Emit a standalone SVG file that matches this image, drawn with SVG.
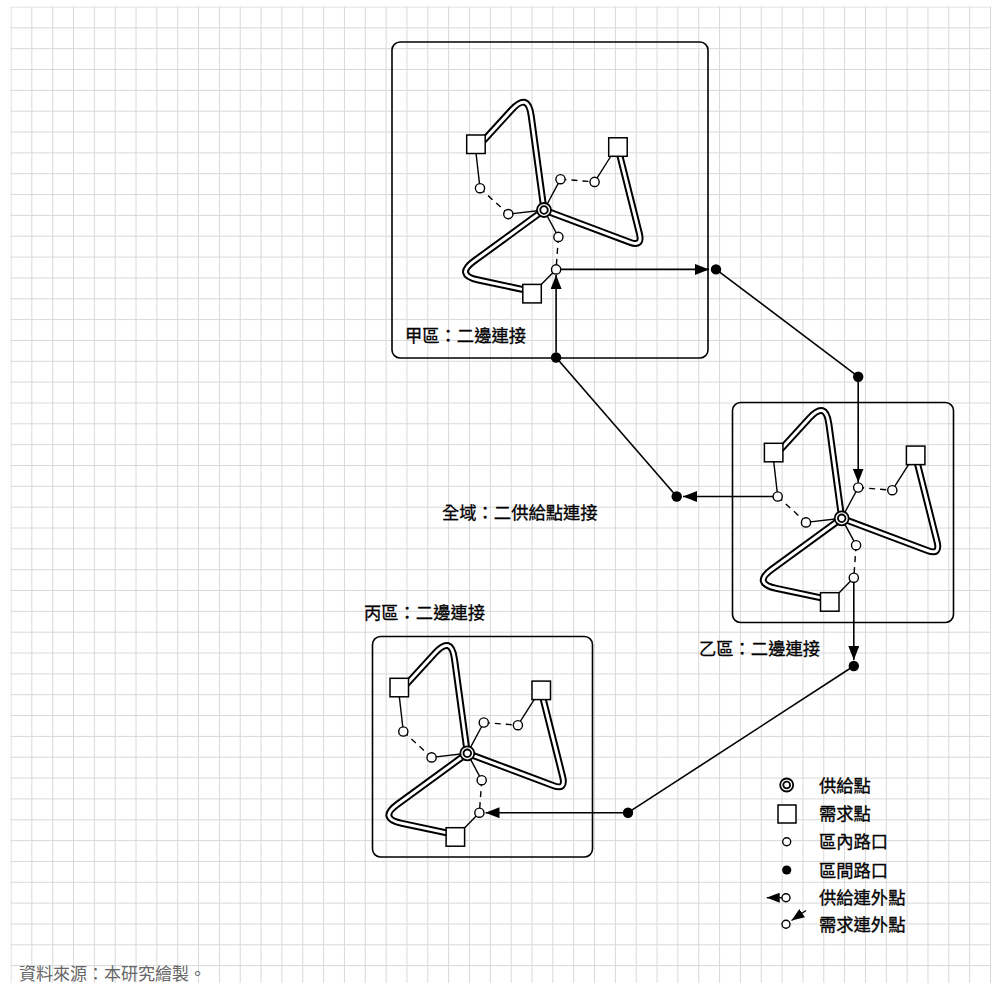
<svg xmlns="http://www.w3.org/2000/svg" width="993" height="983" viewBox="0 0 993 983">
<defs>
  <pattern id="grid" x="10.5" y="6.5" width="20.84" height="20.84" patternUnits="userSpaceOnUse">
    <path d="M0.5,0 V20.84 M0,0.5 H20.84" stroke="#d8d8d8" stroke-width="1" fill="none"/>
  </pattern>
  <marker id="arr" markerWidth="14" markerHeight="11" refX="14" refY="5.5" orient="auto" markerUnits="userSpaceOnUse">
    <path d="M0,0 L14,5.5 L0,11 Z" fill="#000"/>
  </marker>
  <marker id="arrS" markerWidth="13" markerHeight="10" refX="13" refY="5" orient="auto" markerUnits="userSpaceOnUse">
    <path d="M0,0 L13,5 L0,10 Z" fill="#000"/>
  </marker>
</defs>
<style>
  .zone { fill: none; stroke: #000; stroke-width: 1.6; }
  .road-o { fill: none; stroke: #000; stroke-width: 7; stroke-linejoin: round; }
  .road-i { fill: none; stroke: #fff; stroke-width: 3; stroke-linejoin: round; }
  .ln { stroke: #000; stroke-width: 1.4; fill: none; }
  .dash { stroke: #000; stroke-width: 1.4; fill: none; stroke-dasharray: 6 5; }
  .sq { fill: #fff; stroke: #000; stroke-width: 1.5; }
  .ci { fill: #fff; stroke: #000; stroke-width: 1.4; }
  .sup { fill: #fff; stroke: #000; stroke-width: 1.8; }
  .dot { fill: #000; }
  .con { stroke: #000; stroke-width: 1.6; fill: none; }
  .lbl { font-family: 'Liberation Sans', 'Noto Sans CJK TC', sans-serif; font-size: 17.3px; font-weight: 400; fill: #000; stroke: #000; stroke-width: 0.3; }
  .cap { font-family: 'Liberation Sans', 'Noto Sans CJK TC', sans-serif; font-size: 17px; font-weight: 400; fill: #666; }
</style>

<rect x="10.5" y="6.5" width="481" height="976.5" fill="url(#grid)"/>
<rect x="491.5" y="6.5" width="499.5" height="976.5" fill="url(#grid)"/>

<!-- Zone boxes -->
<g id="zone-jia"><rect class="zone" x="392" y="42" width="316" height="316" rx="8"/></g>
<g id="zone-yi"><rect class="zone" x="732.5" y="402.5" width="221" height="220" rx="8"/></g>
<g id="zone-bing"><rect class="zone" x="372.5" y="636.5" width="220" height="220.5" rx="8"/></g>

<!-- Cluster 甲 -->
<g id="cluster-jia" transform="translate(544,210)">
  <g id="jia-roads">
    <path class="road-o" d="M-61.9,-67.8 L-32.2,-100.3 Q-16,-118 -12.8,-94.2 L0,0"/>
    <path class="road-i" d="M-61.9,-67.8 L-32.2,-100.3 Q-16,-118 -12.8,-94.2 L0,0"/>
    <path class="road-o" d="M0,0 L85.7,32.2 Q98.8,37.1 95.4,23.5 L75.2,-57"/>
    <path class="road-i" d="M0,0 L85.7,32.2 Q98.8,37.1 95.4,23.5 L75.2,-57"/>
    <path class="road-o" d="M0,0 L-69.7,50.9 Q-89.1,65 -65.6,70 L-18.2,80.1"/>
    <path class="road-i" d="M0,0 L-69.7,50.9 Q-89.1,65 -65.6,70 L-18.2,80.1"/>
  </g>
  <g id="jia-links">
    <line class="ln" x1="-68" y1="-57" x2="-64" y2="-21.8"/>
    <line class="dash" x1="-64" y1="-21.8" x2="-35.7" y2="4.1"/>
    <line class="ln" x1="-35.7" y1="4.1" x2="0" y2="0"/>
    <line class="ln" x1="0" y1="0" x2="16.5" y2="-30.8"/>
    <line class="dash" x1="16.5" y1="-30.8" x2="50.6" y2="-28.1"/>
    <line class="ln" x1="50.6" y1="-28.1" x2="67" y2="-54"/>
    <line class="ln" x1="0" y1="0" x2="14.4" y2="26.9"/>
    <line class="dash" x1="14.4" y1="26.9" x2="12.1" y2="59.4"/>
    <line class="ln" x1="12.1" y1="59.4" x2="-2.8" y2="74.6"/>
  </g>
  <g id="jia-demand-1"><rect class="sq" x="-77.3" y="-75" width="18.5" height="18.5"/></g>
  <g id="jia-demand-2"><rect class="sq" x="64.7" y="-72.2" width="18.5" height="18.5"/></g>
  <g id="jia-demand-3"><rect class="sq" x="-21.2" y="74.4" width="18.5" height="18.5"/></g>
  <g id="jia-n1"><circle class="ci" cx="-64" cy="-21.8" r="4.6"/></g>
  <g id="jia-n2"><circle class="ci" cx="-35.7" cy="4.1" r="4.6"/></g>
  <g id="jia-n3"><circle class="ci" cx="16.5" cy="-30.8" r="4.6"/></g>
  <g id="jia-n4"><circle class="ci" cx="50.6" cy="-28.1" r="4.6"/></g>
  <g id="jia-n5"><circle class="ci" cx="14.4" cy="26.9" r="4.6"/></g>
  <g id="jia-n6"><circle class="ci" cx="12.1" cy="59.4" r="4.6"/></g>
  <g id="jia-supply"><circle class="sup" cx="0" cy="0" r="7"/><circle class="sup" cx="0" cy="0" r="3.8"/></g>
</g>

<!-- Cluster 乙 -->
<g id="cluster-yi" transform="translate(841.7,518.3)">
  <g id="yi-roads">
    <path class="road-o" d="M-61.9,-67.8 L-32.2,-100.3 Q-16,-118 -12.8,-94.2 L0,0"/>
    <path class="road-i" d="M-61.9,-67.8 L-32.2,-100.3 Q-16,-118 -12.8,-94.2 L0,0"/>
    <path class="road-o" d="M0,0 L85.7,32.2 Q98.8,37.1 95.4,23.5 L75.2,-57"/>
    <path class="road-i" d="M0,0 L85.7,32.2 Q98.8,37.1 95.4,23.5 L75.2,-57"/>
    <path class="road-o" d="M0,0 L-69.7,50.9 Q-89.1,65 -65.6,70 L-18.2,80.1"/>
    <path class="road-i" d="M0,0 L-69.7,50.9 Q-89.1,65 -65.6,70 L-18.2,80.1"/>
  </g>
  <g id="yi-links">
    <line class="ln" x1="-68" y1="-57" x2="-64" y2="-21.8"/>
    <line class="dash" x1="-64" y1="-21.8" x2="-35.7" y2="4.1"/>
    <line class="ln" x1="-35.7" y1="4.1" x2="0" y2="0"/>
    <line class="ln" x1="0" y1="0" x2="16.5" y2="-30.8"/>
    <line class="dash" x1="16.5" y1="-30.8" x2="50.6" y2="-28.1"/>
    <line class="ln" x1="50.6" y1="-28.1" x2="67" y2="-54"/>
    <line class="ln" x1="0" y1="0" x2="14.4" y2="26.9"/>
    <line class="dash" x1="14.4" y1="26.9" x2="12.1" y2="59.4"/>
    <line class="ln" x1="12.1" y1="59.4" x2="-2.8" y2="74.6"/>
  </g>
  <g id="yi-demand-1"><rect class="sq" x="-77.3" y="-75" width="18.5" height="18.5"/></g>
  <g id="yi-demand-2"><rect class="sq" x="64.7" y="-72.2" width="18.5" height="18.5"/></g>
  <g id="yi-demand-3"><rect class="sq" x="-21.2" y="74.4" width="18.5" height="18.5"/></g>
  <g id="yi-n1"><circle class="ci" cx="-64" cy="-21.8" r="4.6"/></g>
  <g id="yi-n2"><circle class="ci" cx="-35.7" cy="4.1" r="4.6"/></g>
  <g id="yi-n3"><circle class="ci" cx="16.5" cy="-30.8" r="4.6"/></g>
  <g id="yi-n4"><circle class="ci" cx="50.6" cy="-28.1" r="4.6"/></g>
  <g id="yi-n5"><circle class="ci" cx="14.4" cy="26.9" r="4.6"/></g>
  <g id="yi-n6"><circle class="ci" cx="12.1" cy="59.4" r="4.6"/></g>
  <g id="yi-supply"><circle class="sup" cx="0" cy="0" r="7"/><circle class="sup" cx="0" cy="0" r="3.8"/></g>
</g>

<!-- Cluster 丙 -->
<g id="cluster-bing" transform="translate(467.3,753.3)">
  <g id="bing-roads">
    <path class="road-o" d="M-61.9,-67.8 L-32.2,-100.3 Q-16,-118 -12.8,-94.2 L0,0"/>
    <path class="road-i" d="M-61.9,-67.8 L-32.2,-100.3 Q-16,-118 -12.8,-94.2 L0,0"/>
    <path class="road-o" d="M0,0 L85.7,32.2 Q98.8,37.1 95.4,23.5 L75.2,-57"/>
    <path class="road-i" d="M0,0 L85.7,32.2 Q98.8,37.1 95.4,23.5 L75.2,-57"/>
    <path class="road-o" d="M0,0 L-69.7,50.9 Q-89.1,65 -65.6,70 L-18.2,80.1"/>
    <path class="road-i" d="M0,0 L-69.7,50.9 Q-89.1,65 -65.6,70 L-18.2,80.1"/>
  </g>
  <g id="bing-links">
    <line class="ln" x1="-68" y1="-57" x2="-64" y2="-21.8"/>
    <line class="dash" x1="-64" y1="-21.8" x2="-35.7" y2="4.1"/>
    <line class="ln" x1="-35.7" y1="4.1" x2="0" y2="0"/>
    <line class="ln" x1="0" y1="0" x2="16.5" y2="-30.8"/>
    <line class="dash" x1="16.5" y1="-30.8" x2="50.6" y2="-28.1"/>
    <line class="ln" x1="50.6" y1="-28.1" x2="67" y2="-54"/>
    <line class="ln" x1="0" y1="0" x2="14.4" y2="26.9"/>
    <line class="dash" x1="14.4" y1="26.9" x2="12.1" y2="59.4"/>
    <line class="ln" x1="12.1" y1="59.4" x2="-2.8" y2="74.6"/>
  </g>
  <g id="bing-demand-1"><rect class="sq" x="-77.3" y="-75" width="18.5" height="18.5"/></g>
  <g id="bing-demand-2"><rect class="sq" x="64.7" y="-72.2" width="18.5" height="18.5"/></g>
  <g id="bing-demand-3"><rect class="sq" x="-21.2" y="74.4" width="18.5" height="18.5"/></g>
  <g id="bing-n1"><circle class="ci" cx="-64" cy="-21.8" r="4.6"/></g>
  <g id="bing-n2"><circle class="ci" cx="-35.7" cy="4.1" r="4.6"/></g>
  <g id="bing-n3"><circle class="ci" cx="16.5" cy="-30.8" r="4.6"/></g>
  <g id="bing-n4"><circle class="ci" cx="50.6" cy="-28.1" r="4.6"/></g>
  <g id="bing-n5"><circle class="ci" cx="14.4" cy="26.9" r="4.6"/></g>
  <g id="bing-n6"><circle class="ci" cx="12.1" cy="59.4" r="4.6"/></g>
  <g id="bing-supply"><circle class="sup" cx="0" cy="0" r="7"/><circle class="sup" cx="0" cy="0" r="3.8"/></g>
</g>

<!-- Inter-zone connectors -->
<g id="connectors">
  <line class="con" x1="560.7" y1="269.4" x2="709" y2="269.4" marker-end="url(#arr)"/>
  <line class="con" x1="716" y1="269.4" x2="858.2" y2="376.7"/>
  <line class="con" x1="858.2" y1="381.7" x2="858.2" y2="482.5" marker-end="url(#arr)"/>
  <line class="con" x1="773" y1="496.5" x2="683" y2="496.5" marker-end="url(#arr)"/>
  <line class="con" x1="676.7" y1="496.5" x2="556.1" y2="357.5"/>
  <line class="con" x1="556.1" y1="352.5" x2="556.1" y2="275" marker-end="url(#arr)"/>
  <line class="con" x1="853.8" y1="582.3" x2="853.8" y2="660" marker-end="url(#arr)"/>
  <line class="con" x1="853.8" y1="666" x2="628" y2="812.7"/>
  <line class="con" x1="623" y1="812.7" x2="485.5" y2="812.7" marker-end="url(#arr)"/>
</g>

<!-- Inter-zone junctions -->
<g id="junction-1"><circle class="dot" cx="716" cy="269.4" r="5.2"/></g>
<g id="junction-2"><circle class="dot" cx="858.2" cy="376.7" r="5.2"/></g>
<g id="junction-3"><circle class="dot" cx="676.7" cy="496.5" r="5.2"/></g>
<g id="junction-4"><circle class="dot" cx="556.1" cy="357.5" r="5.2"/></g>
<g id="junction-5"><circle class="dot" cx="853.8" cy="666" r="5.2"/></g>
<g id="junction-6"><circle class="dot" cx="628" cy="812.7" r="5.2"/></g>

<!-- Labels -->
<g id="labels">
  <text class="lbl" x="405" y="342">甲區：二邊連接</text>
  <text class="lbl" x="442" y="519">全域：二供給點連接</text>
  <text class="lbl" x="364" y="618.5">丙區：二邊連接</text>
  <text class="lbl" x="699" y="654.5">乙區：二邊連接</text>
</g>

<!-- Legend -->
<g id="legend">
  <g id="legend-supply"><circle class="sup" cx="786.7" cy="785" r="6.5"/><circle class="sup" cx="786.7" cy="785" r="3.4"/><text class="lbl" x="819" y="791.5">供給點</text></g>
  <g id="legend-demand"><rect class="sq" x="778" y="805" width="18" height="18"/><text class="lbl" x="819" y="820">需求點</text></g>
  <g id="legend-inner"><circle class="ci" cx="786.7" cy="841.7" r="4"/><text class="lbl" x="819" y="848">區內路口</text></g>
  <g id="legend-between"><circle class="dot" cx="786.7" cy="870" r="4.6"/><text class="lbl" x="819" y="876.5">區間路口</text></g>
  <g id="legend-supply-out"><line class="ln" x1="782" y1="897.7" x2="766.7" y2="897.7" marker-end="url(#arrS)"/><circle class="ci" cx="786" cy="897.7" r="4"/><text class="lbl" x="819" y="904">供給連外點</text></g>
  <g id="legend-demand-out"><line class="ln" x1="806" y1="910.5" x2="791.5" y2="920.5" marker-end="url(#arrS)"/><circle class="ci" cx="786" cy="924.3" r="4"/><text class="lbl" x="819" y="931">需求連外點</text></g>
</g>

<text class="cap" x="19" y="979.5">資料來源：本研究繪製。</text>
</svg>
